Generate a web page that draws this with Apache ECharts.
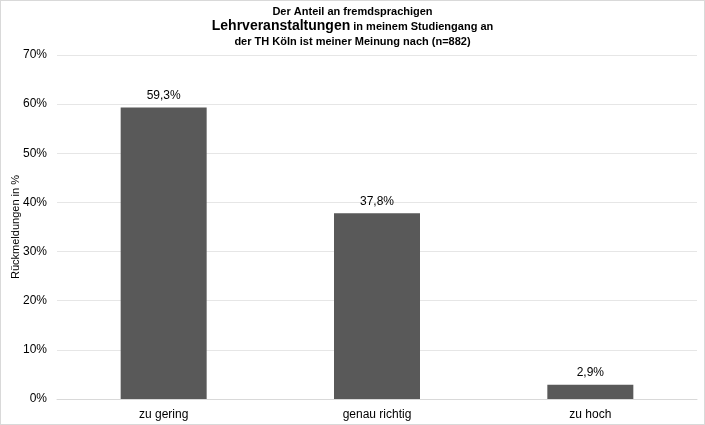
<!DOCTYPE html>
<html>
<head>
<meta charset="utf-8">
<script src="https://cdn.jsdelivr.net/npm/echarts@6/dist/echarts.min.js"></script>
<style>
html,body{margin:0;padding:0;background:#fff;}
#c{width:705px;height:425px;box-sizing:border-box;border:1px solid #d9d9d9;}
</style>
</head>
<body>
<div id="c"></div>
<script>
var categories = ['zu gering', 'genau richtig', 'zu hoch'];
var values = [59.3, 37.8, 2.9];
var yTicks = [0, 10, 20, 30, 40, 50, 60, 70];

var chart = echarts.init(document.getElementById('c'));
chart.setOption({
  animation: false,
  title: {
    left: 'center',
    top: -2,
    text: '{a|Der Anteil an fremdsprachigen}\n{b|Lehrveranstaltungen}{a| in meinem Studiengang an}\n{a|der TH Köln ist meiner Meinung nach (n=882)}',
    textStyle: {
      rich: {
        a: {fontFamily: 'Liberation Sans, Arial', fontSize: 11, fontWeight: 'bold', color: '#000', lineHeight: 15},
        b: {fontFamily: 'Liberation Sans, Arial', fontSize: 14, fontWeight: 'bold', color: '#000', lineHeight: 15}
      }
    }
  },
  grid: {left: 56, right: 7, top: 54, bottom: 25, containLabel: false, outerBoundsMode: 'none'},
  xAxis: {
    type: 'category',
    data: categories,
    axisTick: {show: false},
    axisLine: {lineStyle: {color: '#d9d9d9'}},
    axisLabel: {color: '#000', fontSize: 12, fontFamily: 'Liberation Sans, Arial', margin: 10}
  },
  yAxis: {
    type: 'value',
    min: yTicks[0],
    max: yTicks[yTicks.length - 1],
    interval: 10,
    name: 'Rückmeldungen in %',
    nameLocation: 'middle',
    nameGap: 36,
    nameMoveOverlap: false,
    nameTextStyle: {color: '#000', fontSize: 11, fontFamily: 'Liberation Sans, Arial'},
    axisLabel: {color: '#000', fontSize: 12, fontFamily: 'Liberation Sans, Arial', formatter: '{value}%', margin: 10},
    axisLine: {show: false},
    axisTick: {show: false},
    splitLine: {lineStyle: {color: '#e6e6e6'}}
  },
  series: [{
    type: 'bar',
    data: values,
    barWidth: 86,
    itemStyle: {color: '#595959'},
    label: {
      show: true,
      position: 'top',
      distance: 6,
      color: '#000',
      fontSize: 12,
      fontFamily: 'Liberation Sans, Arial',
      formatter: function (p) { return p.value.toFixed(1).replace('.', ',') + '%'; }
    }
  }]
});
</script>
</body>
</html>
